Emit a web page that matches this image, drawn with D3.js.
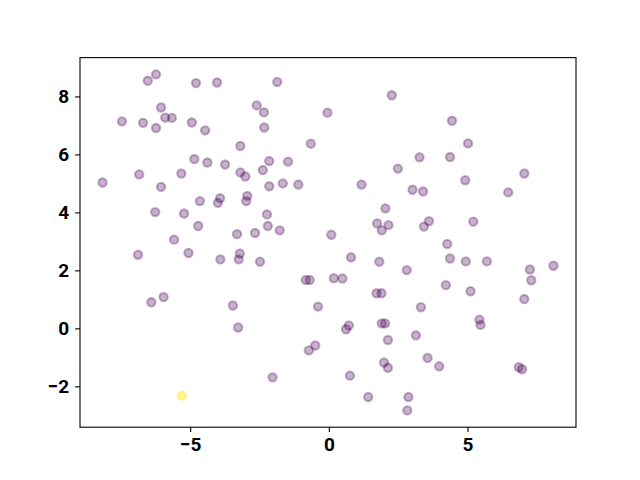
<!DOCTYPE html>
<meta charset="utf-8">
<style type="text/css">
  body {
    margin: 0;
    background: #fff;
  }
  .axis text {
    font-family: Roboto, "Liberation Sans", sans-serif;
    font-weight: bold;
    font-size: 19px;
    fill: #000;
  }
  .axis line {
    stroke: #000;
    stroke-width: 1.1px;
  }
  .domain {
    display: none;
  }
  .frame {
    fill: none;
    stroke: #000;
    stroke-width: 1.1px;
  }
</style>
<body>
<div id="chart"></div>
<script src="https://d3js.org/d3.v7.min.js"></script>
<script>
// point coordinates
var xValues = [-6.23, -6.53, -4.79, -4.03, -6.05, -7.46, -6.70, -5.90, -5.66, -6.23,
  -4.94, -4.46, -3.19, -4.85, -4.38, -3.74, -6.84, -5.32, -3.19, -3.01,
  -8.16, -6.05, -1.86, 2.27, -2.60, -2.34, -0.05, -2.33, -0.65, -2.15,
  -1.47, -2.38, 2.49, -2.15, -1.66, -1.10, 1.18, 3.27, 4.44, 5.02,
  4.37, 7.05, 4.92, -4.65, -3.92, -4.00, -2.94, -2.98, -6.26, -5.22,
  -4.71, -3.31, -5.58, -6.88, -5.06, -3.91, -3.21, -3.25, -5.96, -6.40,
  -3.46, 3.02, 3.40, 2.04, 1.74, 2.15, 1.91, -2.23, -2.20, -1.77,
  -2.66, 0.09, 0.80, 1.82, 2.81, -2.48, -0.83, -0.69, 0.18, 0.49,
  1.72, 1.90, -0.39, 6.47, 3.61, 3.43, 5.21, 4.27, 4.37, 4.94,
  5.70, 7.25, 8.10, 7.30, 4.22, 5.11, 7.05, 3.32, -3.27, -5.30,
  0.72, 0.62, 1.91, 2.03, 2.13, 3.14, -0.49, -0.72, 1.99, 2.13,
  -2.03, 0.76, 1.42, 2.87, 2.83, 5.43, 5.47, 3.56, 3.98, 6.85, 6.97];

var yValues = [8.76, 8.54, 8.46, 8.48, 7.62, 7.14, 7.09, 7.27, 7.26, 6.91,
  7.10, 6.83, 6.29, 5.84, 5.72, 5.65, 5.31, 5.34, 5.38, 5.24,
  5.03, 4.88, 8.50, 8.04, 7.69, 7.45, 7.44, 6.93, 6.37, 5.77,
  5.75, 5.46, 5.51, 4.90, 5.00, 4.96, 4.96, 5.90, 7.16, 6.38,
  5.91, 5.34, 5.11, 4.39, 4.49, 4.33, 4.57, 4.39, 4.01, 3.96,
  3.53, 3.25, 3.06, 2.54, 2.60, 2.38, 2.58, 2.38, 1.08, 0.90,
  0.79, 4.78, 4.72, 4.14, 3.62, 3.56, 3.38, 3.93, 3.53, 3.38,
  3.29, 3.23, 2.45, 2.30, 2.01, 2.30, 1.67, 1.67, 1.73, 1.72,
  1.21, 1.21, 0.75, 4.69, 3.70, 3.51, 3.68, 2.91, 2.41, 2.31,
  2.31, 2.03, 2.16, 1.66, 1.49, 1.28, 1.01, 0.73, 0.03, -2.32,
  0.10, -0.03, 0.17, 0.17, -0.40, -0.24, -0.59, -0.76, -1.18, -1.36,
  -1.69, -1.63, -2.37, -2.37, -2.83, 0.30, 0.12, -1.02, -1.31, -1.34, -1.41];

// cluster label of each point (only one point is in cluster 1)
var clusterIds = xValues.map(function(d, i) { return i == 99 ? 1 : 0; });

var xTickValues = [-5, 0, 5];
var yTickValues = [-2, 0, 2, 4, 6, 8];

var data = xValues.map(function(d, i) {
  return {x: d, y: yValues[i], c: clusterIds[i]};
});

var margin = {top: 57.6, right: 64, bottom: 52.8, left: 80};
var width = 640 - margin.left - margin.right,
    height = 480 - margin.top - margin.bottom;

var svg = d3.select("#chart").append("svg")
  .attr("width", 640)
  .attr("height", 480)
  .append("g")
  .attr("transform", "translate(" + margin.left + "," + margin.top + ")");

// 5% padding like matplotlib autoscale
var xExt = d3.extent(xValues), yExt = d3.extent(yValues);
var xPad = (xExt[1] - xExt[0]) * 0.05, yPad = (yExt[1] - yExt[0]) * 0.05;

var xScale = d3.scaleLinear()
  .domain([xExt[0] - xPad, xExt[1] + xPad])
  .range([0, width]);

var yScale = d3.scaleLinear()
  .domain([yExt[0] - yPad, yExt[1] + yPad])
  .range([height, 0]);

var color = d3.scaleOrdinal()
  .domain([0, 1])
  .range(["#440154", "#fde725"]);

// the yellow one reads a bit stronger in the picture
var alpha = d3.scaleOrdinal()
  .domain([0, 1])
  .range([0.3, 0.45]);

function fmt(d) { return d < 0 ? "\u2212" + Math.abs(d) : d; }

var xAxis = d3.axisBottom(xScale)
  .tickValues(xTickValues)
  .tickSize(4.9)
  .tickPadding(5)
  .tickFormat(fmt);

var yAxis = d3.axisLeft(yScale)
  .tickValues(yTickValues)
  .tickSize(4.9)
  .tickPadding(6)
  .tickFormat(fmt);

//points
svg.selectAll("circle.pt")
  .data(data)
  .enter()
  .append("circle")
  .attr("class", "pt")
  .attr("cx", function(d) { return xScale(d.x); })
  .attr("cy", function(d) { return yScale(d.y); })
  .attr("r", 4.17)
  .style("fill", function(d) { return color(d.c); })
  .style("fill-opacity", function(d) { return alpha(d.c); })
  .style("stroke", function(d) { return color(d.c); })
  .style("stroke-opacity", function(d) { return alpha(d.c); })
  .style("stroke-width", 2.08);

svg.append("rect")
  .attr("class", "frame")
  .attr("width", width)
  .attr("height", height);

svg.append("g")
  .attr("class", "x axis")
  .attr("transform", "translate(0," + height + ")")
  .call(xAxis);

svg.append("g")
  .attr("class", "y axis")
  .call(yAxis);
</script>
</body>
